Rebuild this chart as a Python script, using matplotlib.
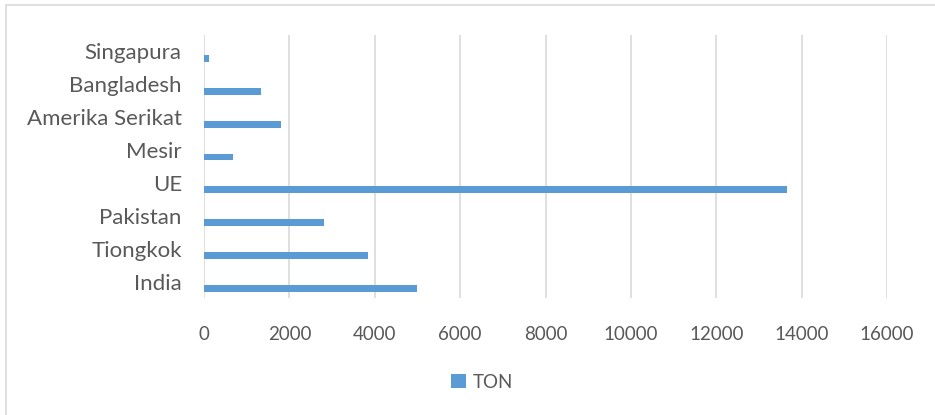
import numpy as np
import matplotlib.pyplot as plt
from matplotlib.patches import Rectangle

# data
negara = ["India", "Tiongkok", "Pakistan", "UE", "Mesir", "Amerika Serikat", "Bangladesh", "Singapura"]
ton = [4990, 3840, 2810, 13660, 680, 1800, 1330, 110]
xticks = [0, 2000, 4000, 6000, 8000, 10000, 12000, 14000, 16000]

plt.rcParams['font.family'] = ['Lato', 'DejaVu Sans']
grey = "#595959"

fig = plt.figure(figsize=(9.35, 4.15), dpi=100)
ax = fig.add_axes([204/935, 1-298/415, (887-204)/935, (298-35)/415])

y = np.arange(len(negara))
ax.barh(y - 0.21, ton, height=0.21, color="#5B9BD5", label="TON", zorder=3)

ax.set_xlim(0, 16000)
ax.set_ylim(-0.5, len(negara) - 0.5)
ax.set_xticks(xticks)
ax.set_xticklabels([str(v) for v in xticks])
ax.set_yticks(y)
ax.set_yticklabels(negara)
ax.tick_params(axis="both", length=0, colors=grey)
ax.tick_params(axis="x", pad=20, labelsize=13.5)
ax.tick_params(axis="y", pad=16, labelsize=16)
ax.grid(axis="x", color="#D9D9D9", linewidth=1.2, zorder=0)
for s in ax.spines.values():
    s.set_visible(False)

fig.legend(loc="center", bbox_to_anchor=(482/935, 1-382/415), frameon=False,
           fontsize=13.5, labelcolor=grey, handlelength=0.8, handleheight=0.8,
           handletextpad=0.4)

# chart border
fig.patches.append(Rectangle((6/935, -0.01), 1.0, 1-5/415 + 0.01, transform=fig.transFigure,
                             fill=False, edgecolor="#D9D9D9", linewidth=1.2))

fig.savefig("out.png", dpi=100)
